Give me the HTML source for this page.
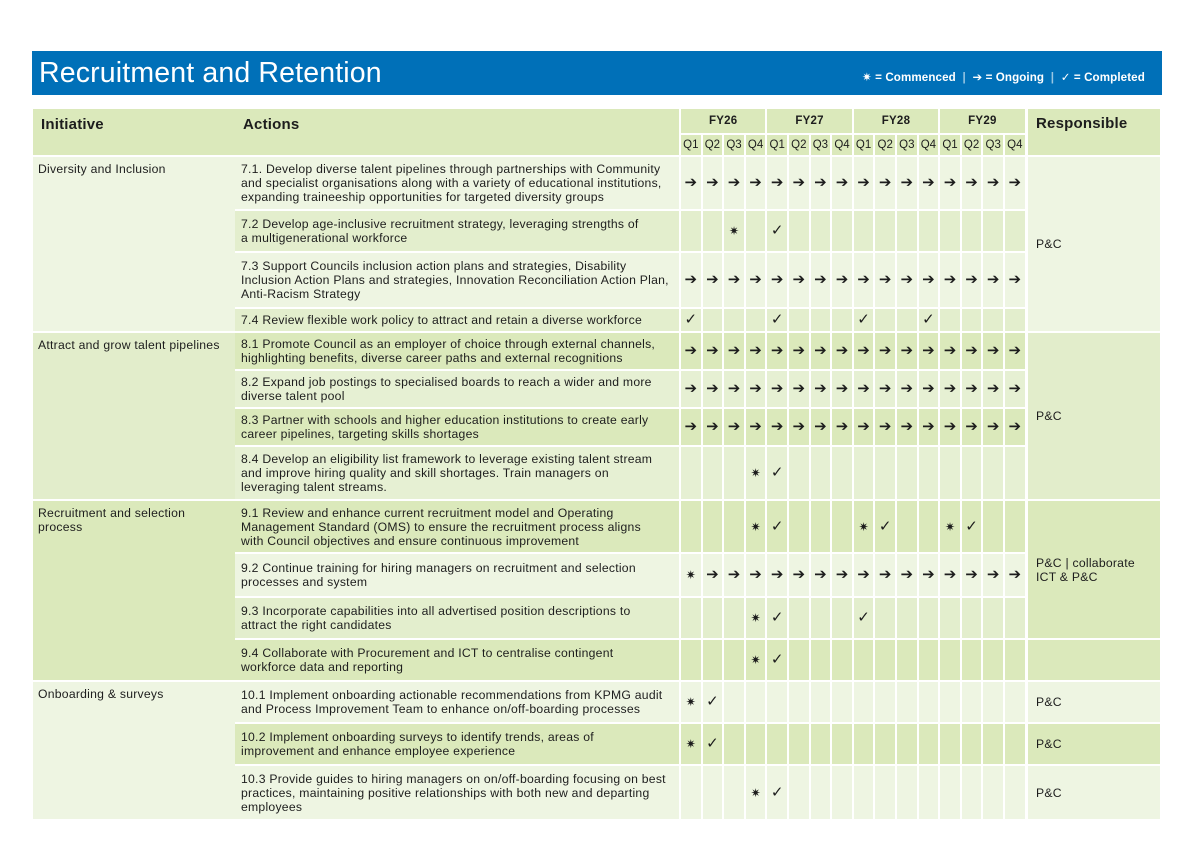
<!DOCTYPE html>
<html><head><meta charset="utf-8"><style>
body{margin:0;width:1194px;height:844px;background:#fff;position:relative;overflow:hidden;font-family:"Liberation Sans","DejaVu Sans",sans-serif;color:#1d1d1d}
.c{position:absolute;box-sizing:border-box}
.t{position:absolute;font-size:12.2px;line-height:14px;white-space:nowrap;letter-spacing:0.25px}
.m{position:absolute;font-size:14px;text-align:center;font-weight:bold;line-height:14px}
</style></head><body>
<div class="c" style="left:32px;top:51px;width:1130px;height:44px;background:#0070b8"></div>
<div class="t" style="left:39px;top:56px;font-size:28.5px;line-height:34px;letter-spacing:0.15px;color:#fff">Recruitment and Retention</div>
<div class="t" style="left:862px;top:71px;font-size:11.6px;letter-spacing:0.1px;color:#fff;font-weight:bold">✷ = Commenced &nbsp;<span style="opacity:.6">|</span>&nbsp; ➔ = Ongoing &nbsp;<span style="opacity:.6">|</span>&nbsp; ✓ = Completed</div>
<div id="tbl"></div>
<script>
const rowIds=['7.1','7.2','7.3','7.4','8.1','8.2','8.3','8.4','9.1','9.2','9.3','9.4','10.1','10.2','10.3'];
const rowStatus=['>>>>>>>>>>>>>>>>','..*.v...........','>>>>>>>>>>>>>>>>','v...v...v..v....','>>>>>>>>>>>>>>>>','>>>>>>>>>>>>>>>>','>>>>>>>>>>>>>>>>','...*v...........','...*v...*v..*v..','*>>>>>>>>>>>>>>>','...*v...v.......','...*v...........','*v..............','*v..............','...*v...........'];
const rowText=[
['7.1. Develop diverse talent pipelines through partnerships with Community','and specialist organisations along with a variety of educational institutions,','expanding traineeship opportunities for targeted diversity groups'],
['7.2 Develop age-inclusive recruitment strategy, leveraging strengths of','a multigenerational workforce'],
['7.3 Support Councils inclusion action plans and strategies, Disability','Inclusion Action Plans and strategies, Innovation Reconciliation Action Plan,','Anti-Racism Strategy'],
['7.4 Review flexible work policy to attract and retain a diverse workforce'],
['8.1 Promote Council as an employer of choice through external channels,','highlighting benefits, diverse career paths and external recognitions'],
['8.2 Expand job postings to specialised boards to reach a wider and more','diverse talent pool'],
['8.3 Partner with schools and higher education institutions to create early','career pipelines, targeting skills shortages'],
['8.4 Develop an eligibility list framework to leverage existing talent stream','and improve hiring quality and skill shortages. Train managers on','leveraging talent streams.'],
['9.1 Review and enhance current recruitment model and Operating','Management Standard (OMS)  to ensure the recruitment process aligns','with Council objectives and ensure continuous improvement'],
['9.2 Continue training for hiring managers on recruitment and selection','processes and system'],
['9.3 Incorporate capabilities into all advertised position descriptions to','attract the right candidates'],
['9.4 Collaborate with Procurement and ICT to centralise contingent','workforce data and reporting'],
['10.1 Implement onboarding actionable recommendations from KPMG audit','and Process Improvement Team to enhance on/off-boarding processes'],
['10.2 Implement onboarding surveys to identify  trends, areas of','improvement and enhance employee experience'],
['10.3 Provide guides to hiring managers on on/off-boarding focusing on best','practices, maintaining positive relationships with both new and departing','employees']];
const rowColor=['#eef5e2','#e3eecd','#eef5e2','#e3eecd','#dbe9bb','#e6f0d3','#dbe9bb','#e6f0d3','#dbe9bb','#eef5e2','#e3eecd','#dbe9bb','#eef5e2','#dbe9bb','#eef5e2'];
const rowEdges=[156,210,252,308,332,370,408,446,500,553,597,639,681,723,765,820];
const groups=[['Diversity and Inclusion'],['Attract and grow talent pipelines'],['Recruitment and selection','process'],['Onboarding & surveys']];
const groupRows=[[0,3],[4,7],[8,11],[12,14]];
const groupColor=['#eef5e2','#e2edcb','#dbe9bb','#eef5e2'];
const respText=[['P&C'],['P&C'],['P&C | collaborate','ICT & P&C'],[''],['P&C'],['P&C'],['P&C']];
const respRows=[[0,3],[4,7],[8,10],[11,11],[12,12],[13,13],[14,14]];
const respColor=['#eef5e2','#e2edcb','#dbe9bb','#dbe9bb','#eef5e2','#dbe9bb','#eef5e2'];
const years=['FY26','FY27','FY28','FY29'];
const quarters=['Q1','Q2','Q3','Q4'];
const glyph={'>':'➔','*':'✷','v':'✓'};

const T=document.getElementById('tbl');
const Q0=680,QW=21.6;
const qx=i=>Q0+i*QW;
function box(name,x,y,w,h,bg){const d=document.createElement('div');d.className='c';


d.style.cssText=`left:${x+1}px;top:${y+1}px;width:${w-2}px;height:${h-2}px;background:${bg}`;T.appendChild(d);return d;}
function txt(name,x,y,s,extra){const d=document.createElement('div');d.className='t';


d.style.left=x+'px';d.style.top=y+'px';if(extra)d.style.cssText+=extra;d.innerHTML=s;T.appendChild(d);return d;}
const H='#dbe9bb';
box('initiative-header',32,108,204,48,H);
box('actions-header',234,108,446,48,H);
box('responsible-header',1027,108,134,48,H);
txt('initiative-header-label',41,116,'Initiative','font-size:15px;font-weight:bold;line-height:18px;letter-spacing:0.2px');
txt('actions-header-label',243,116,'Actions','font-size:15px;font-weight:bold;line-height:18px;letter-spacing:0.2px');
txt('responsible-header-label',1036,115,'Responsible','font-size:15px;font-weight:bold;line-height:18px;letter-spacing:0.2px');
years.forEach((y,k)=>{box('year-header-'+y.toLowerCase(),qx(k*4),108,QW*4,26,H);
txt('year-label-'+y.toLowerCase(),qx(k*4),114,y,`width:${QW*4}px;text-align:center;font-weight:bold;font-size:11.5px`);
quarters.forEach((q,j)=>{const i=k*4+j;box('quarter-header',qx(i),134,QW,22,H);
txt('quarter-label',qx(i),138,q,`width:${QW}px;text-align:center;font-size:11.5px;letter-spacing:0`);});});
groups.forEach((g,k)=>{const y0=rowEdges[groupRows[k][0]],y1=rowEdges[groupRows[k][1]+1];
box('initiative-cell',32,y0,204,y1-y0,groupColor[k]);
txt('initiative-label',38,y0+6,g.join('<br>').replace(/&/g,'&amp;'));});
rowIds.forEach((id,r)=>{const y0=rowEdges[r],y1=rowEdges[r+1],h=y1-y0;
box('action-cell-'+id,234,y0,446,h,rowColor[r]);
const n=rowText[r].length;txt('action-text-'+id,241,y0+(h-n*14)/2,rowText[r].join('<br>'));
for(let i=0;i<16;i++){box('status-cell',qx(i),y0,QW,h,rowColor[r]);
const s=rowStatus[r][i];if(glyph[s]){const m=document.createElement('div');m.className='m';


m.style.cssText=`left:${qx(i)}px;top:${y0+h/2-7}px;width:${QW}px;font-size:${s=='*'?12:15}px`;m.textContent=glyph[s];T.appendChild(m);}}});
respText.forEach((t,k)=>{const y0=rowEdges[respRows[k][0]],y1=rowEdges[respRows[k][1]+1],h=y1-y0;
box('responsible-cell',1027,y0,134,h,respColor[k]);
if(t[0])txt('responsible-label',1036,y0+(h-t.length*14)/2,t.join('<br>').replace(/&/g,'&amp;'),'font-size:12.2px');});
</script>
</body></html>
